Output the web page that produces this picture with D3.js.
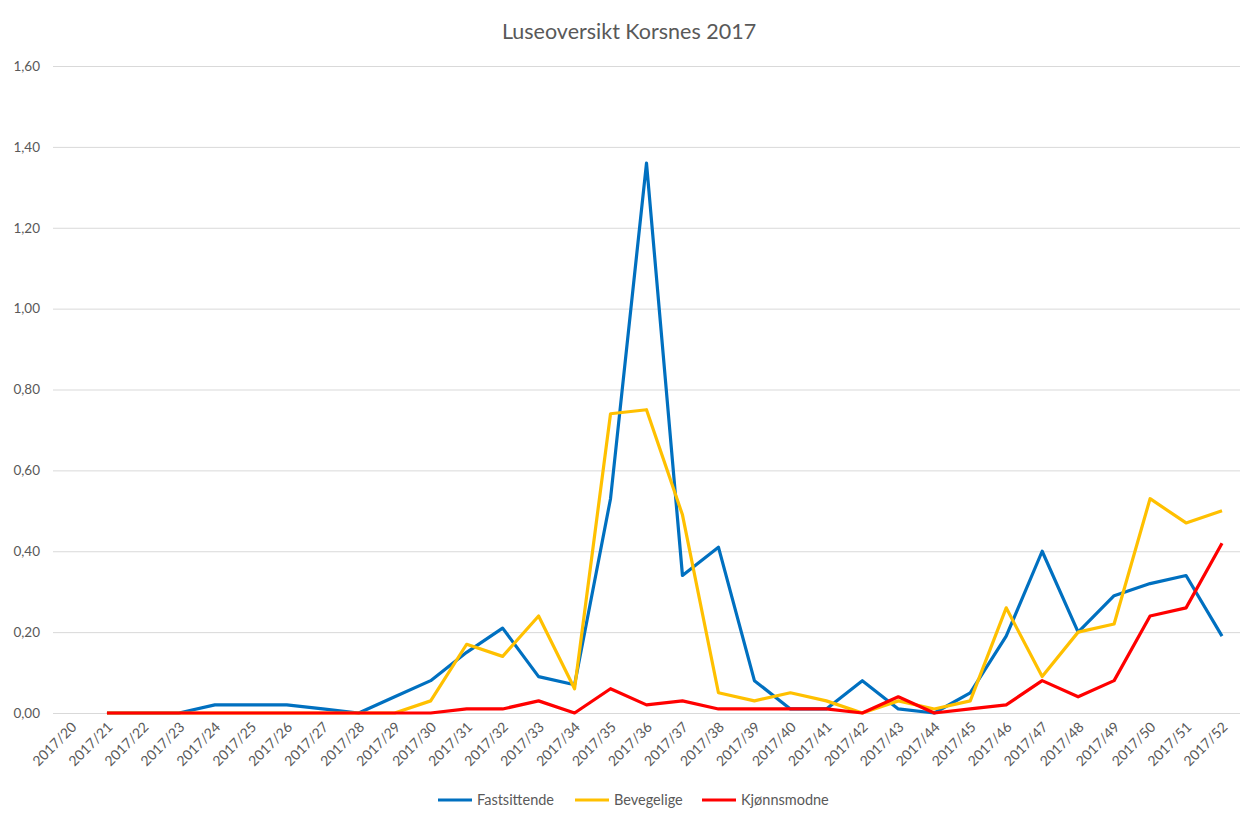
<!DOCTYPE html>
<html>
<head>
<meta charset="utf-8">
<script src="https://cdn.jsdelivr.net/npm/d3@7"></script>
<style>
  body { margin: 0; background: #fff; }
  svg { font-family: Lato, "Open Sans", sans-serif; }
</style>
</head>
<body>
<svg id="chart"></svg>
<script>
const weeks = d3.range(20, 53).map(w => `2017/${w}`);

// values from 2017/21 to 2017/52 (2017/20 has no data)
const fastsittende = [0, 0, 0, 0.02, 0.02, 0.02, 0.01, 0, 0.04, 0.08, 0.15, 0.21, 0.09, 0.07, 0.53, 1.36,
  0.34, 0.41, 0.08, 0.01, 0.01, 0.08, 0.01, 0, 0.05, 0.19, 0.40, 0.20, 0.29, 0.32, 0.34, 0.19];
const bevegelige = [0, 0, 0, 0, 0, 0, 0, 0, 0, 0.03, 0.17, 0.14, 0.24, 0.06, 0.74, 0.75,
  0.49, 0.05, 0.03, 0.05, 0.03, 0, 0.03, 0.01, 0.03, 0.26, 0.09, 0.20, 0.22, 0.53, 0.47, 0.50];
const kjonnsmodne = [0, 0, 0, 0, 0, 0, 0, 0, 0, 0, 0.01, 0.01, 0.03, 0, 0.06, 0.02,
  0.03, 0.01, 0.01, 0.01, 0.01, 0, 0.04, 0, 0.01, 0.02, 0.08, 0.04, 0.08, 0.24, 0.26, 0.42];
const yTicks = [0, 0.2, 0.4, 0.6, 0.8, 1.0, 1.2, 1.4, 1.6];

const series = [
  { name: "Fastsittende", values: fastsittende, color: "#0070C0" },
  { name: "Bevegelige", values: bevegelige, color: "#FFC000" },
  { name: "Kjønnsmodne", values: kjonnsmodne, color: "#FF0000" }
];

const width = 1255, height = 813;
const margin = { top: 66, right: 15, bottom: 100, left: 53 };

const svg = d3.select("#chart").attr("width", width).attr("height", height);

const xScale = d3.scalePoint()
  .domain(weeks)
  .range([margin.left, width - margin.right])
  .padding(0.5);

const yScale = d3.scaleLinear()
  .domain([0, 1.6])
  .range([height - margin.bottom, margin.top]);

const locale = d3.formatLocale({ decimal: ",", thousands: " ", grouping: [3], currency: ["", " kr"] });
const fmt = locale.format(".2f");

// title
svg.append("text")
  .attr("x", 629)
  .attr("y", 39)
  .attr("text-anchor", "middle")
  .attr("fill", "#595959")
  .attr("font-size", 21.5)
  .text("Luseoversikt Korsnes 2017");

// gridlines + y labels
const yAxis = d3.axisLeft(yScale)
  .tickValues(yTicks)
  .tickSize(-(width - margin.left - margin.right))
  .tickPadding(13)
  .tickFormat(fmt);

svg.append("g")
  .attr("transform", `translate(${margin.left},0)`)
  .call(yAxis)
  .call(g => g.select(".domain").remove())
  .call(g => g.selectAll("line").attr("stroke", "#d9d9d9").attr("stroke-width", 1))
  .call(g => g.selectAll("text").attr("fill", "#595959").attr("font-size", 13.5).attr("font-family", "Lato, sans-serif"));

// x labels
const xAxis = d3.axisBottom(xScale).tickSize(0).tickPadding(0);
svg.append("g")
  .attr("transform", `translate(0,${height - margin.bottom})`)
  .call(xAxis)
  .call(g => g.select(".domain").remove())
  .call(g => g.selectAll("text")
    .attr("fill", "#595959")
    .attr("font-size", 14)
    .attr("font-family", "Lato, sans-serif")
    .attr("text-anchor", "end")
    .attr("dy", 0)
    .attr("transform", "translate(6,15) rotate(-45)"));

// lines
const line = d3.line()
  .x((d, i) => xScale(weeks[i + 1]))
  .y(d => yScale(d));

svg.selectAll(".series")
  .data(series)
  .join("path")
  .attr("class", "series")
  .attr("d", d => line(d.values))
  .attr("fill", "none")
  .attr("stroke", d => d.color)
  .attr("stroke-width", 3.2)
  .attr("stroke-linejoin", "round");

// legend
const legendX = [438, 575, 702];
const legend = svg.selectAll(".legend")
  .data(series)
  .join("g")
  .attr("class", "legend")
  .attr("transform", (d, i) => `translate(${legendX[i]},800)`);

legend.append("line")
  .attr("x1", 0).attr("x2", 34)
  .attr("stroke", d => d.color)
  .attr("stroke-width", 3.2);

legend.append("text")
  .attr("x", 39)
  .attr("dy", "0.35em")
  .attr("fill", "#595959")
  .attr("font-size", 14.5)
  .text(d => d.name);
</script>
</body>
</html>
